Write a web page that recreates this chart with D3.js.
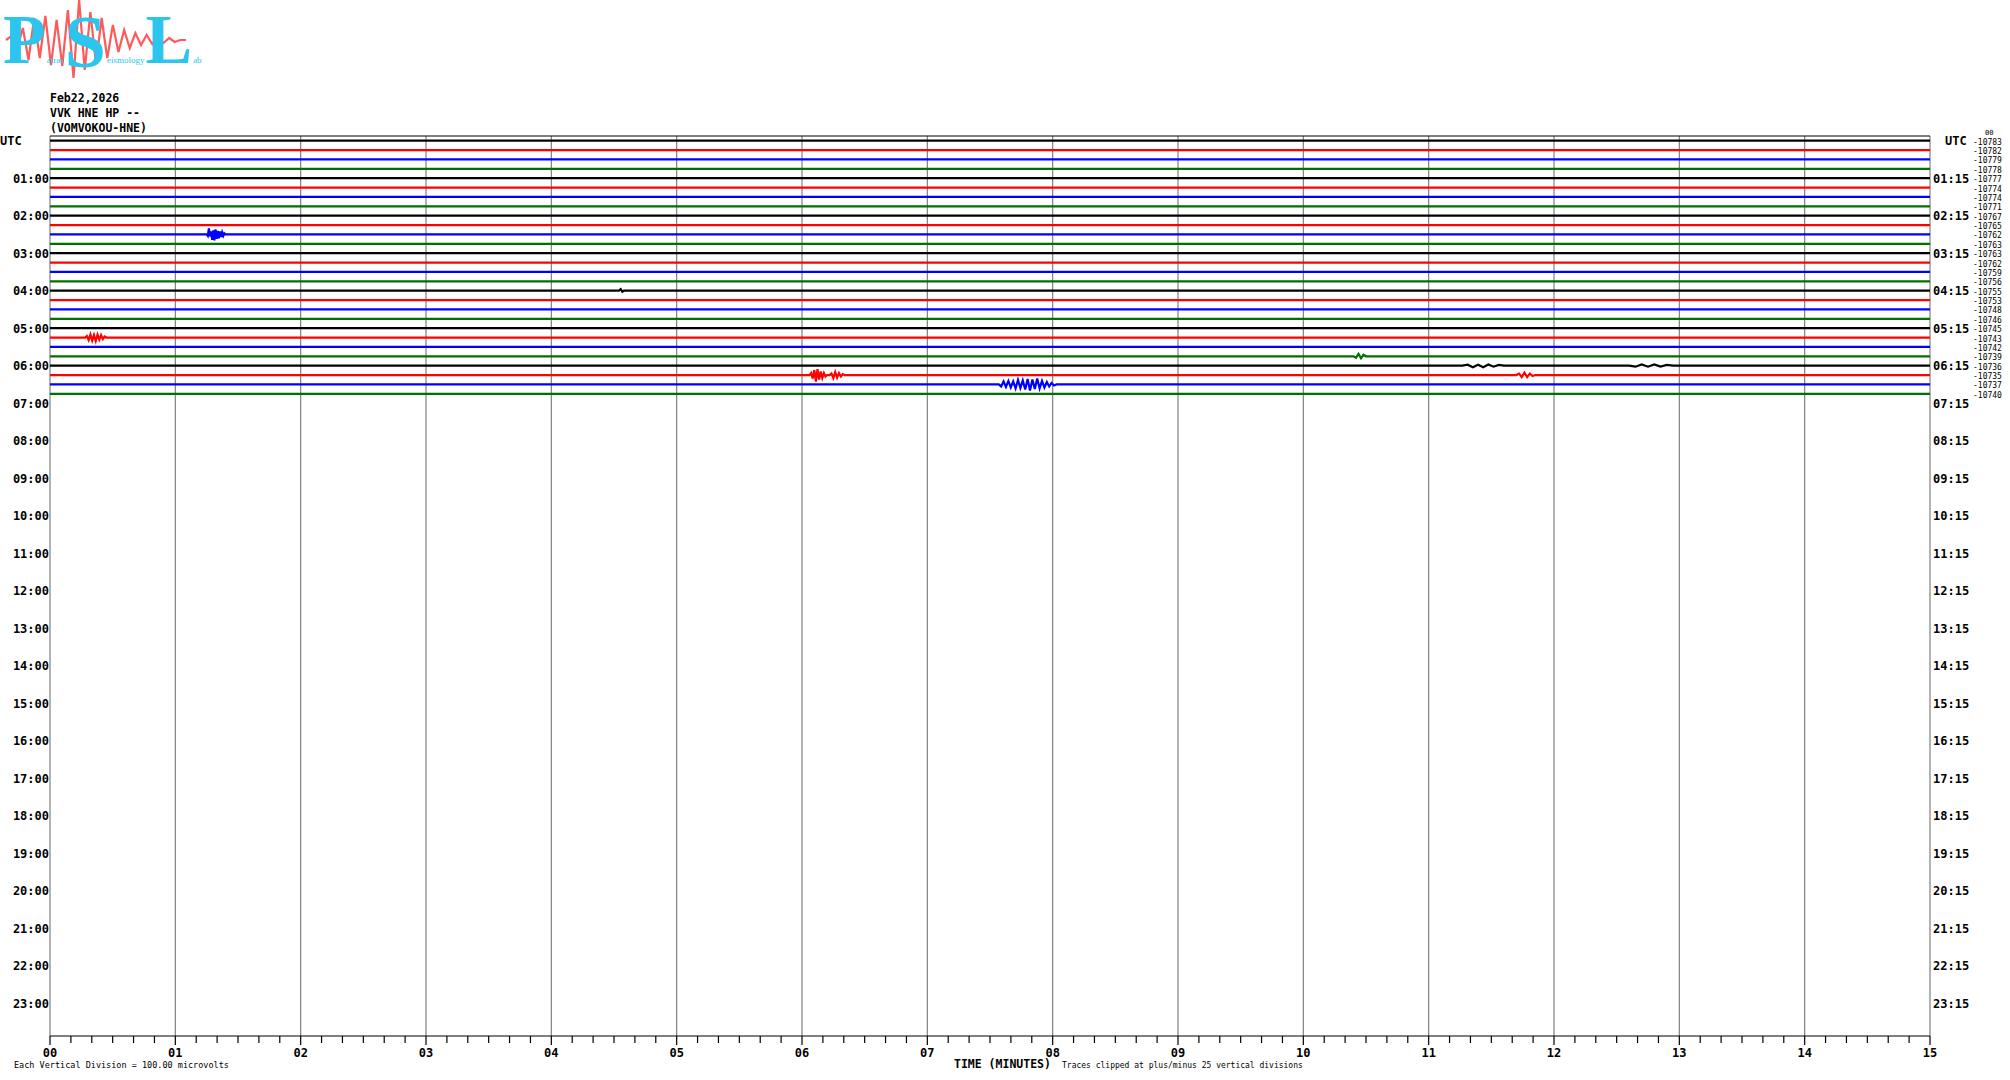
<!DOCTYPE html>
<html>
<head>
<meta charset="utf-8">
<script src="https://cdn.jsdelivr.net/npm/d3@7"></script>
<style>
  html, body { margin: 0; padding: 0; background: #ffffff; }
  svg { display: block; }
  text { font-family: "DejaVu Sans Mono", monospace; }
</style>
</head>
<body>
<script>
// ---------------- DATA ----------------
const headerLines = ["Feb22,2026", "VVK HNE HP --", "(VOMVOKOU-HNE)"];
const leftHourLabels = ["UTC","01:00","02:00","03:00","04:00","05:00","06:00","07:00","08:00","09:00","10:00","11:00",
  "12:00","13:00","14:00","15:00","16:00","17:00","18:00","19:00","20:00","21:00","22:00","23:00"];
const rightHourLabels = ["UTC","01:15","02:15","03:15","04:15","05:15","06:15","07:15","08:15","09:15","10:15","11:15",
  "12:15","13:15","14:15","15:15","16:15","17:15","18:15","19:15","20:15","21:15","22:15","23:15"];
const minuteLabels = ["00","01","02","03","04","05","06","07","08","09","10","11","12","13","14","15"];
// offset values printed at the right of each 15-minute trace
const traceOffsets = [-10783,-10782,-10779,-10778,-10777,-10774,-10774,-10771,-10767,-10765,-10762,-10763,
  -10763,-10762,-10759,-10756,-10755,-10753,-10748,-10746,-10745,-10743,-10742,-10739,-10736,-10735,-10737,-10740];
// visible seismic bursts: trace index, start/end minute, amplitudes (microvolts, + = up)
const events = [
  {trace: 10, from: 1.25, to: 1.40, amp: [0,-150,600,-200,300,-550,400,-600,500,-450,350,-400,300,-250,200,-150,100,0]},
  {trace: 21, from: 0.28, to: 0.45, amp: [0,150,-250,300,-300,250,-350,300,-200,250,-150,100,0]},
  {trace: 25, from: 6.06, to: 6.20, amp: [0,200,-350,500,-650,600,-450,350,-300,200,-150,0]},
  {trace: 25, from: 6.22, to: 6.34, amp: [0,150,-300,300,-250,200,-150,100,0]},
  {trace: 26, from: 7.57, to: 8.03, amp: [0,-200,300,-250,350,-300,300,-400,450,-350,400,-500,550,-600,500,-450,600,-400,350,-300,250,-200,150,-100,0]},
  {trace: 25, from: 11.70, to: 11.85, amp: [0,150,-200,250,-200,150,-100,0]},
  {trace: 23, from: 10.40, to: 10.50, amp: [0,-150,250,-200,150,0]},
  {trace: 24, from: 11.27, to: 11.60, amp: [0,100,-150,100,-150,120,-100,80,0]},
  {trace: 24, from: 12.60, to: 12.95, amp: [0,-100,120,-100,130,-90,80,0]},
  {trace: 16, from: 4.54, to: 4.58, amp: [0,150,-100,0]}
];
// logo seismogram amplitudes (logo units)
const logoWave = [0,4,-8,12,-20,22,-18,24,-25,20,-26,30,-38,40,-30,28,-24,22,-18,15,-12,10,-8,7,-5,5,-4,3,-3,2,-2,0,0];
// logo words: big initial + small rest
const logoWords = [["P", "atras"], ["S", "eismology"], ["L", "ab"]];

// ---------------- LAYOUT ----------------
const W = 2010, H = 1080;
const svg = d3.select("body").append("svg").attr("width", W).attr("height", H);
svg.append("rect").attr("width", W).attr("height", H).attr("fill", "#fff");

const x = d3.scaleLinear().domain([0, 15]).range([50, 1930]);
const row = d3.scaleLinear().domain([0, 96]).range([136, 1036]); // 96 quarter-hour rows
const amp = d3.scaleLinear().domain([-1000, 1000]).range([10, -10]);
const colors = ["#000000", "#ff0000", "#0000ff", "#007000"];

// ---------------- LOGO ----------------
const logo = svg.append("g");
const lx = d3.scaleLinear().domain([0, logoWave.length - 1]).range([6, 186]);
const ly = d3.scaleLinear().domain([-40, 40]).range([80, 0]);
logo.append("path")
  .attr("d", d3.line().x((d, i) => lx(i)).y(d => ly(d))(logoWave))
  .attr("fill", "none").attr("stroke", "#ff5a5a").attr("stroke-width", 2.2);
const cyan = "#2cc5ee";
const bigSize = [70, 74, 70], bigY = [63, 67, 63];
let cursor = 3;
logoWords.forEach((w, i) => {
  const big = logo.append("text").attr("x", cursor).attr("y", bigY[i]).attr("fill", cyan)
    .style("font-family", "Liberation Serif").style("font-size", bigSize[i] + "px")
    .style("font-weight", "bold").text(w[0]);
  cursor += big.node().getComputedTextLength() + 1;
  const small = logo.append("text").attr("x", cursor).attr("y", 63).attr("fill", cyan)
    .style("font-family", "Liberation Serif").style("font-size", "9px").text(w[1]);
  cursor += small.node().getComputedTextLength() + 1;
});

// ---------------- HEADER ----------------
svg.selectAll("text.hdr").data(headerLines).enter().append("text")
  .attr("class", "hdr")
  .attr("x", 50).attr("y", (d, i) => 98 + i * 15)
  .attr("dominant-baseline", "middle")
  .style("font-size", "11.5px").style("font-weight", "bold")
  .text(d => d);

// ---------------- GRID ----------------
svg.selectAll("line.vgrid").data(d3.range(0, 16)).enter().append("line")
  .attr("x1", d => x(d)).attr("x2", d => x(d))
  .attr("y1", row(0)).attr("y2", row(96))
  .attr("stroke", "#808080").attr("stroke-width", 1.2);
svg.append("line").attr("x1", x(0)).attr("x2", x(15)).attr("y1", row(0)).attr("y2", row(0))
  .attr("stroke", "#000").attr("stroke-width", 1);

// ---------------- TRACES ----------------
const line = d3.line().x(d => x(d.t)).y(d => d.y);
traceOffsets.forEach((off, i) => {
  const y0 = row(i + 0.5);
  const pts = [{t: 0, y: y0}];
  events.filter(e => e.trace === i).sort((a, b) => a.from - b.from).forEach(e => {
    const n = e.amp.length;
    e.amp.forEach((a, k) => {
      pts.push({t: e.from + (e.to - e.from) * k / (n - 1), y: y0 + amp(a)});
    });
  });
  pts.push({t: 15, y: y0});
  svg.append("path").attr("d", line(pts))
    .attr("fill", "none").attr("stroke", colors[i % 4]).attr("stroke-width", 2.2);
});

// ---------------- LABELS ----------------
svg.selectAll("text.lh").data(leftHourLabels).enter().append("text")
  .attr("x", (d, i) => i === 0 ? 0 : 49).attr("text-anchor", (d, i) => i === 0 ? "start" : "end")
  .attr("y", (d, i) => row(i * 4 + 0.5) + 1)
  .attr("dominant-baseline", "middle")
  .style("font-size", "12px").style("font-weight", "bold")
  .text(d => d);
svg.selectAll("text.rh").data(rightHourLabels).enter().append("text")
  .attr("x", (d, i) => i === 0 ? 1945 : 1933)
  .attr("y", (d, i) => row(i * 4 + 0.5) + 1)
  .attr("dominant-baseline", "middle")
  .style("font-size", "12px").style("font-weight", "bold")
  .text(d => d);
svg.selectAll("text.off").data(traceOffsets).enter().append("text")
  .attr("x", 1973).attr("y", (d, i) => row(i + 0.5) + 1.5)
  .attr("dominant-baseline", "middle")
  .style("font-size", "8px")
  .text(d => d3.format("d")(d).replace("\u2212", "-"));
svg.append("text").attr("x", 1985).attr("y", 133).attr("dominant-baseline", "middle")
  .style("font-size", "7px").text("00");

// ---------------- X AXIS ----------------
const axisY = row(96);
svg.append("line").attr("x1", x(0)).attr("x2", x(15)).attr("y1", axisY).attr("y2", axisY)
  .attr("stroke", "#000").attr("stroke-width", 1.2);
const minorTicks = d3.range(0, 15 * 6 + 1).map(k => k / 6);
svg.selectAll("line.tick").data(minorTicks).enter().append("line")
  .attr("x1", d => x(d)).attr("x2", d => x(d))
  .attr("y1", axisY)
  .attr("y2", (d, k) => axisY + (k % 6 === 0 ? 9 : 7))
  .attr("stroke", "#000").attr("stroke-width", 1.2);
svg.selectAll("text.ml").data(minuteLabels).enter().append("text")
  .attr("x", (d, i) => x(i)).attr("y", 1053)
  .attr("text-anchor", "middle").attr("dominant-baseline", "middle")
  .style("font-size", "12px").style("font-weight", "bold")
  .text(d => d);
svg.append("text").attr("x", 954).attr("y", 1064).attr("dominant-baseline", "middle")
  .style("font-size", "11.5px").style("font-weight", "bold").text("TIME (MINUTES)");
svg.append("text").attr("x", 1062).attr("y", 1065).attr("dominant-baseline", "middle")
  .style("font-size", "8px").text("Traces clipped at plus/minus 25 vertical divisions");
svg.append("text").attr("x", 14).attr("y", 1065).attr("dominant-baseline", "middle")
  .style("font-size", "8.5px").text("Each Vertical Division =  100.00 microvolts");
</script>
</body>
</html>
